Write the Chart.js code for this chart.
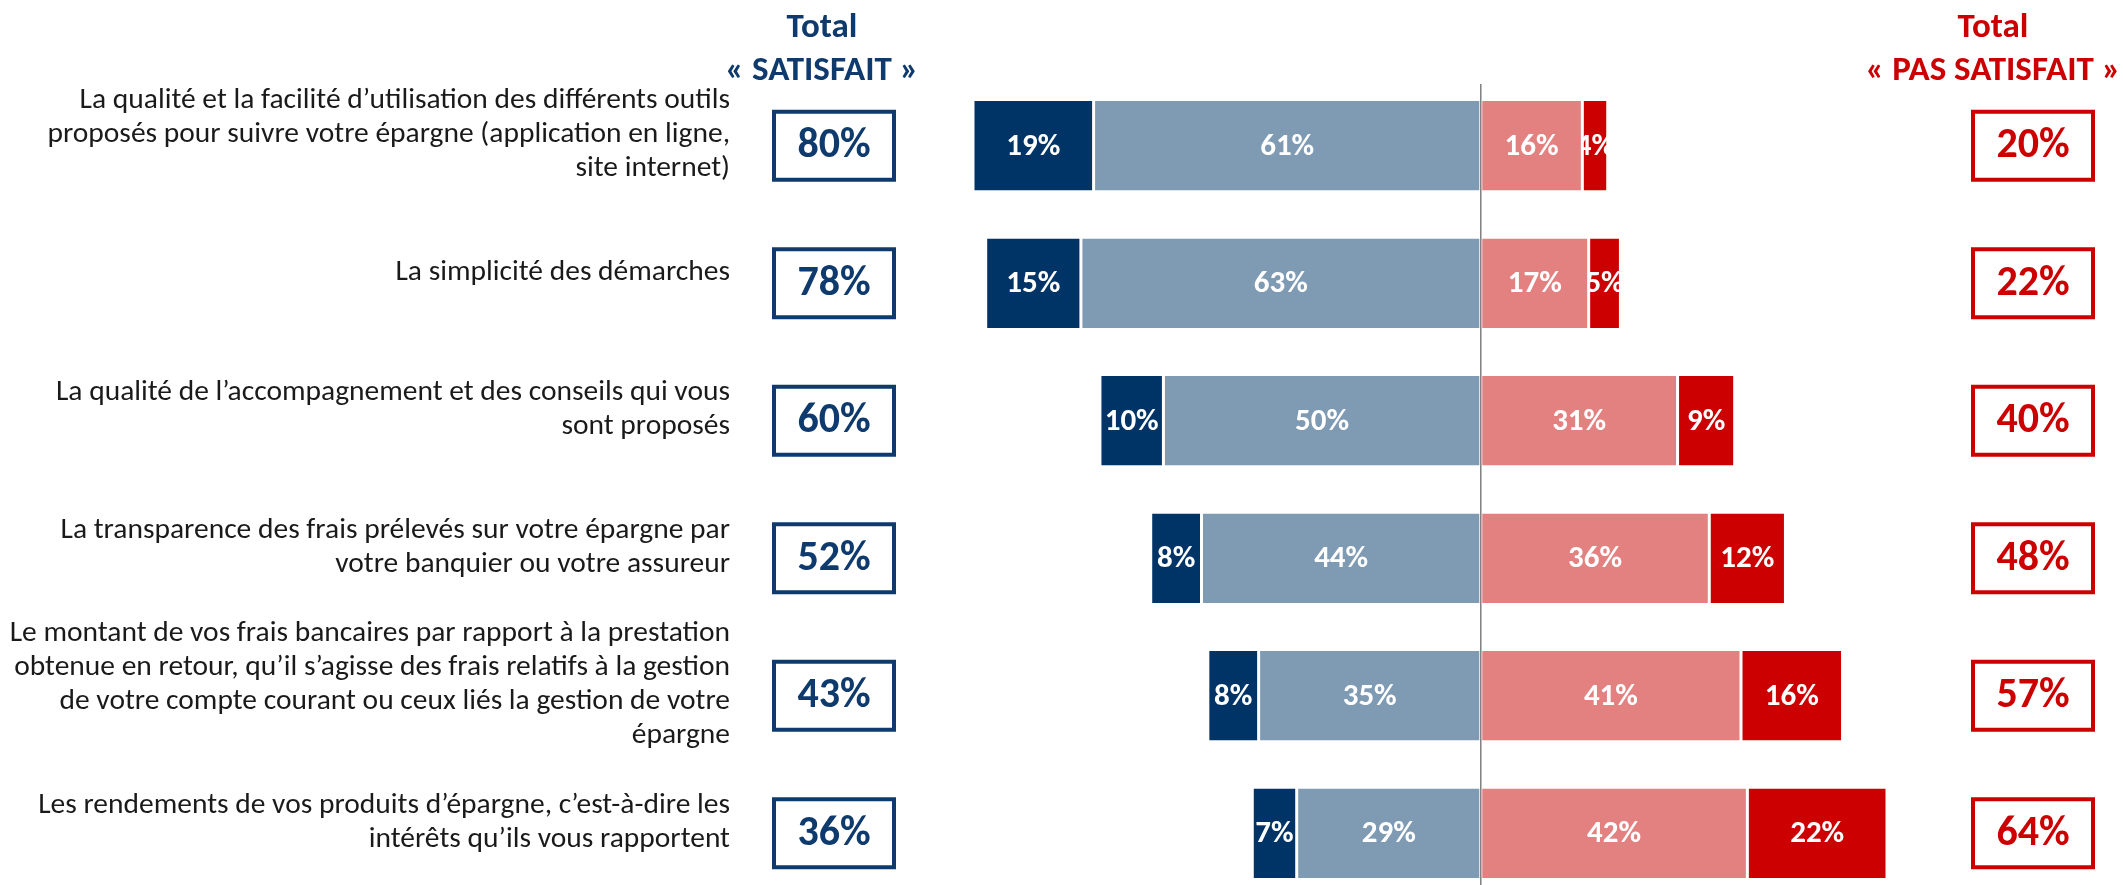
<!DOCTYPE html>
<html>
<head>
<meta charset="utf-8">
<script src="https://cdn.jsdelivr.net/npm/chart.js@4"></script>
<style>
  html, body { margin: 0; padding: 0; background: #fff; overflow: hidden; }
  #wrap { position: relative; width: 2123px; height: 905px; }
  .head { position: absolute; top: 4px; font-family: Carlito, "Open Sans", sans-serif; font-weight: bold; font-size: 35px; line-height: 43px; text-align: center; white-space: nowrap; }
  #headSat { left: 672px; width: 300px; color: #0e3a6e; }
  #headPas { left: 1843px; width: 300px; color: #cc0000; }
</style>
</head>
<body>
<div id="wrap">
  <canvas id="chart" width="2123" height="905"></canvas>
  <div class="head" id="headSat">Total<br>« SATISFAIT »</div>
  <div class="head" id="headPas">Total<br>« PAS SATISFAIT »</div>
</div>
<script>
const FONT = 'Carlito, "Open Sans", sans-serif';

// données
const categories = [
  ["La qualité et la facilité d’utilisation des différents outils", "proposés pour suivre votre épargne (application en ligne,", "site internet)"],
  ["La simplicité des démarches"],
  ["La qualité de l’accompagnement et des conseils qui vous", "sont proposés"],
  ["La transparence des frais prélevés sur votre épargne par", "votre banquier ou votre assureur"],
  ["Le montant de vos frais bancaires par rapport à la prestation", "obtenue en retour, qu’il s’agisse des frais relatifs à la gestion", "de votre compte courant ou ceux liés la gestion de votre", "épargne"],
  ["Les rendements de vos produits d’épargne, c’est-à-dire les", "intérêts qu’ils vous rapportent"]
];
const tresSatisfait = [19, 15, 10, 8, 8, 7];
const plutotSatisfait = [61, 63, 50, 44, 35, 29];
const plutotPasSatisfait = [16, 17, 31, 36, 41, 42];
const pasDuToutSatisfait = [4, 5, 9, 12, 16, 22];
const totalSatisfait = [80, 78, 60, 52, 43, 36];
const totalPasSatisfait = [20, 22, 40, 48, 57, 64];

const NAVY = "#003366";
const STEEL = "#7f9ab3";
const PINK = "#e38080";
const RED = "#cc0000";
const BOXBLUE = "#0e3a6e";

// étiquettes blanches dans les barres + encadrés des totaux
const overlay = {
  id: "overlay",
  afterDatasetsDraw(chart) {
    const ctx = chart.ctx;
    ctx.save();
    ctx.font = "bold 31px " + FONT;
    ctx.fillStyle = "#fff";
    ctx.textAlign = "center";
    ctx.textBaseline = "middle";
    chart.data.datasets.forEach((ds, di) => {
      chart.getDatasetMeta(di).data.forEach((bar, i) => {
        const p = bar.getProps(["x", "base", "y", "height"], true);
        const l = Math.min(p.x, p.base), r = Math.max(p.x, p.base);
        ctx.save();
        ctx.beginPath();
        ctx.rect(l, p.y - p.height / 2, r - l, p.height);
        ctx.clip();
        ctx.fillText(Math.abs(ds.data[i]) + "%", (l + r) / 2, p.y + 1);
        ctx.restore();
      });
    });

    // ligne du zéro
    const x0 = chart.scales.x.getPixelForValue(0);
    ctx.strokeStyle = "#7f7f7f";
    ctx.lineWidth = 1.5;
    ctx.beginPath();
    ctx.moveTo(x0, 84);
    ctx.lineTo(x0, chart.height);
    ctx.stroke();

    // encadrés
    const yScale = chart.scales.y;
    ctx.font = "bold 42px " + FONT;
    ctx.lineWidth = 4;
    categories.forEach((c, i) => {
      const y = yScale.getPixelForValue(i);
      ctx.strokeStyle = BOXBLUE;
      ctx.fillStyle = BOXBLUE;
      ctx.strokeRect(774, y - 34, 120, 68);
      ctx.fillText(totalSatisfait[i] + "%", 834, y + 1);
      ctx.strokeStyle = RED;
      ctx.fillStyle = RED;
      ctx.strokeRect(1973, y - 34, 120, 68);
      ctx.fillText(totalPasSatisfait[i] + "%", 2033, y + 1);
    });
    ctx.restore();
  }
};

function makeSet(label, values, color, sign) {
  return {
    label,
    data: values.map(v => v * sign),
    backgroundColor: color,
    borderColor: "#fff",
    borderWidth: { left: 1.5, right: 1.5, top: 0, bottom: 0 },
    borderSkipped: false,
    stack: "s"
  };
}

new Chart(document.getElementById("chart"), {
  type: "bar",
  data: {
    labels: categories,
    datasets: [
      makeSet("Plutôt satisfait", plutotSatisfait, STEEL, -1),
      makeSet("Très satisfait", tresSatisfait, NAVY, -1),
      makeSet("Plutôt pas satisfait", plutotPasSatisfait, PINK, 1),
      makeSet("Pas du tout satisfait", pasDuToutSatisfait, RED, 1)
    ]
  },
  options: {
    indexAxis: "y",
    responsive: false,
    animation: false,
    layout: { padding: { top: 77, bottom: 3, right: 236, left: 0 } },
    datasets: { bar: { barPercentage: 0.65, categoryPercentage: 1 } },
    plugins: { legend: { display: false }, tooltip: { enabled: false } },
    scales: {
      x: { stacked: true, min: -80, max: 64, display: false },
      y: {
        stacked: true,
        grid: { display: false },
        border: { display: false },
        afterFit: s => { s.width = 973; s.paddingTop = 0; s.paddingBottom = 0; },
        ticks: {
          autoSkip: false,
          padding: 235,
          labelOffset: -11,
          color: "#1a1a1a",
          font: { family: FONT, size: 29.5, lineHeight: "34px" }
        }
      }
    }
  },
  plugins: [overlay]
});
</script>
</body>
</html>
